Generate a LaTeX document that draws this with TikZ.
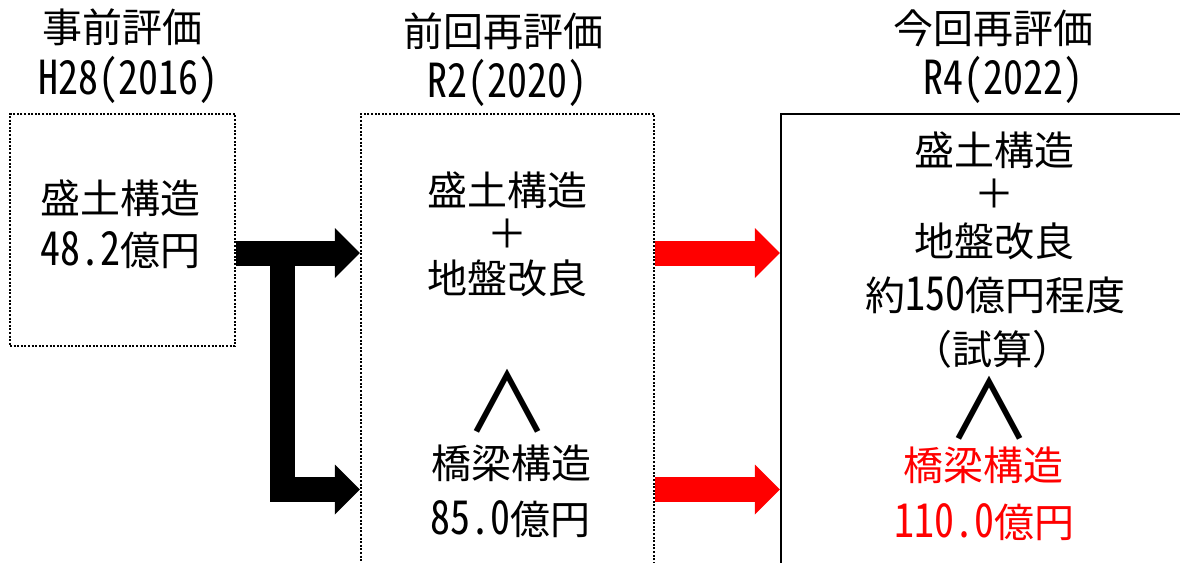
\documentclass[tikz,border=0pt]{standalone}
\usepackage{fontspec}
\setmainfont{Noto Sans CJK JP}
\newfontfamily\hwfont{Noto Sans CJK JP}[RawFeature=+hwid]
\newcommand\nm[1]{\scalebox{1}[1.17]{\hwfont #1}}
\newcommand\bigand{\scalebox{2.15}[2.05]{∧}}
\usetikzlibrary{arrows.meta}
\definecolor{pred}{RGB}{255,0,0}
\tikzset{
  lbl/.style={font=\fontsize{40}{48}\selectfont, text height=35pt, text depth=5pt, inner sep=0pt, anchor=center},
  dotbox/.style={draw=black, line width=2.4pt, dash pattern=on 2pt off 1.6pt, inner sep=0pt},
  solidbox/.style={draw=black, line width=2.4pt, inner sep=0pt},
  blkarrow/.style={line width=25pt, line join=miter, draw=black, -{Triangle[length=25pt,width=50pt,line width=0pt]}},
  redarrow/.style={line width=25pt, draw=pred, -{Triangle[length=25pt,width=50pt,line width=0pt]}},
  andsign/.style={font=\fontsize{40}{48}\selectfont, inner sep=0pt, anchor=center},
}
\begin{document}
\begin{tikzpicture}[x=1pt,y=-1pt]
\path[use as bounding box] (0,0) rectangle (1180,562);
\clip (0,0) rectangle (1180,562);
% boxes
\node[dotbox, minimum width=225pt, minimum height=232pt] (b1) at (122.5,230) {};
\node[dotbox, minimum width=293pt, minimum height=506pt] (b2) at (507.5,367) {};
\node[solidbox, minimum width=419pt, minimum height=506pt] (b3) at (990.5,367) {};
% headers
\node[lbl] (h1a) at (122,27) {事前評価};
\node[lbl] (h1b) at (128,79) {\nm{H28(2016)}};
\node[lbl] (h2a) at (503,31) {前回再評価};
\node[lbl] (h2b) at (507,82) {\nm{R2(2020)}};
\node[lbl] (h3a) at (993,28) {今回再評価};
\node[lbl] (h3b) at (1003,79) {\nm{R4(2022)}};
% box 1
\node[lbl] (t11) at (120,198) {盛土構造};
\node[lbl] (t12) at (120,250) {\nm{48.2}億円};
% box 2
\node[lbl] (t21) at (507,190) {盛土構造};
\node[lbl] (t22) at (507,233) {＋};
\node[lbl] (t23) at (507,278) {地盤改良};
\node[andsign] (t24) at (507,401) {\bigand};
\node[lbl] (t25) at (511,463) {橋梁構造};
\node[lbl] (t26) at (510,519) {\nm{85.0}億円};
% box 3
\node[lbl] (t31) at (994,150) {盛土構造};
\node[lbl] (t32) at (994,193) {＋};
\node[lbl] (t33) at (994,241) {地盤改良};
\node[lbl] (t34) at (995,295) {約\nm{150}億円程度};
\node[lbl] (t35) at (992,349) {（試算）};
\node[andsign] (t36) at (989,408) {\bigand};
\node[lbl, text=pred] (t37) at (983,465) {橋梁構造};
\node[lbl, text=pred] (t38) at (984,522) {\nm{110.0}億円};
% arrows
\coordinate (ya) at (0,253);
\coordinate (yb) at (0,489.5);
\coordinate (jt) at (282.5,241);
\coordinate (jb) at (282.5,489.5);
\draw[blkarrow] (b1.east |- ya) -- (b2.west |- ya);
\draw[blkarrow] (jt) -- (jb) -- (b2.west |- yb);
\draw[redarrow] (b2.east |- ya) -- (b3.west |- ya);
\draw[redarrow] (b2.east |- yb) -- (b3.west |- yb);
\end{tikzpicture}
\end{document}
